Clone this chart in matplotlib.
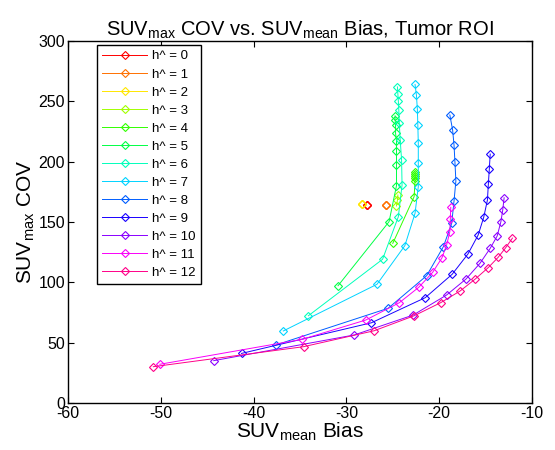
import matplotlib
matplotlib.use("Agg")
import matplotlib.pyplot as plt
import numpy as np

plt.rcParams['font.family'] = ['Liberation Sans', 'DejaVu Sans']
plt.rcParams['mathtext.default'] = 'regular'
plt.rcParams['axes.unicode_minus'] = False

# SUVmean bias (x) and SUVmax COV (y) for each h^ value
h_values = list(range(13))

bias_0 = [-27.8, -27.8, -27.8]
cov_0 = [164.5, 164.5, 164.5]
bias_1 = [-25.7, -25.7, -25.7]
cov_1 = [164.5, 164.5, 164.5]
bias_2 = [-28.35, -28.35, -28.35]
cov_2 = [164.7, 164.7, 164.7]
bias_3 = [-24.6, -24.5, -24.45]
cov_3 = [163.3, 168.0, 172.4]
bias_4 = [-25.0, -22.7, -22.6, -22.6, -22.58, -22.58, -22.6]
cov_4 = [132.3, 171.0, 184.0, 186.5, 188.5, 190.0, 191.5]
bias_5 = [-30.9, -25.4, -24.6, -24.6, -24.6, -24.6, -24.7, -24.7, -24.75, -24.75]
cov_5 = [97.2, 150.3, 180.1, 197.2, 209.1, 217.4, 223.5, 230.4, 234.5, 238.0]
bias_6 = [-34.1, -26.1, -24.4, -24.0, -24.05, -24.2, -24.3, -24.35, -24.4, -24.45, -24.5]
cov_6 = [72.3, 119.1, 154.4, 180.7, 201.4, 218.0, 232.0, 243.0, 250.0, 256.0, 262.0]
bias_7 = [-36.8, -26.7, -23.7, -22.6, -22.25, -22.25, -22.25, -22.3, -22.35, -22.45, -22.6]
cov_7 = [59.7, 98.4, 130.4, 157.2, 179.3, 199.1, 215.2, 230.4, 243.4, 255.0, 264.0]
bias_8 = [-37.6, -25.5, -21.35, -19.55, -18.65, -18.4, -18.2, -18.3, -18.4, -18.55, -18.85]
cov_8 = [48.1, 78.5, 105.5, 129.5, 148.9, 167.4, 184.0, 199.5, 213.8, 226.2, 238.7]
bias_9 = [-41.3, -27.3, -21.5, -18.6, -16.9, -15.8, -15.2, -14.8, -14.7, -14.6, -14.5]
cov_9 = [41.1, 66.5, 87.3, 106.7, 123.5, 139.2, 153.9, 168.2, 181.5, 193.6, 206.3]
bias_10 = [-44.3, -29.15, -22.8, -19.2, -17.1, -15.6, -14.5, -13.75, -13.35, -13.15, -13.0]
cov_10 = [35.1, 56.4, 72.9, 89.5, 102.8, 115.8, 128.2, 138.4, 150.2, 160.0, 170.1]
bias_11 = [-50.1, -34.75, -27.9, -24.3, -22.2, -20.7, -19.7, -19.2, -18.85, -18.8, -18.75]
cov_11 = [32.1, 52.8, 68.8, 83.1, 95.9, 108.3, 120.3, 130.9, 142.0, 152.2, 162.2]
bias_12 = [-50.8, -34.6, -27.0, -22.7, -19.85, -17.75, -16.15, -14.7, -13.65, -12.85, -12.1]
cov_12 = [30.1, 46.7, 59.9, 72.3, 83.1, 92.8, 102.5, 112.3, 120.7, 128.5, 136.7]

all_bias = [bias_0, bias_1, bias_2, bias_3, bias_4, bias_5, bias_6,
            bias_7, bias_8, bias_9, bias_10, bias_11, bias_12]
all_cov = [cov_0, cov_1, cov_2, cov_3, cov_4, cov_5, cov_6,
           cov_7, cov_8, cov_9, cov_10, cov_11, cov_12]

colors = plt.cm.hsv(np.linspace(0, 12 / 13, 13))

fig = plt.figure(figsize=(5.55, 4.5), dpi=100)
ax = fig.add_axes([0.1225, 0.1044, 0.836, 0.8045])

for h, x, y, c in zip(h_values, all_bias, all_cov, colors):
    ax.plot(x, y, '-', marker='D', color=c, mfc='none', mec=c,
            markersize=4.3, lw=0.7, mew=0.8, label=f"h^ = {h}")

ax.set_xlim(-60, -10)
ax.set_ylim(0, 300)
ax.set_xticks(np.arange(-60, -9, 10))
ax.set_yticks(np.arange(0, 301, 50))
ax.tick_params(direction='in', top=True, right=True, labelsize=11.5, length=4, pad=2)
for s in ax.spines.values():
    s.set_linewidth(1.0)

ax.set_title("SUV$_{max}$ COV vs. SUV$_{mean}$ Bias, Tumor ROI", fontsize=14.5, pad=4)
ax.set_xlabel("SUV$_{mean}$ Bias", fontsize=15, labelpad=0)
ax.set_ylabel("SUV$_{max}$ COV", fontsize=15, labelpad=1)

leg = ax.legend(loc='upper left', bbox_to_anchor=(0.0625, 0.989), fontsize=9.5,
                handlelength=3.4, labelspacing=0.44, borderaxespad=0,
                fancybox=False, framealpha=1, borderpad=0.4, handletextpad=0.4)
leg.get_frame().set_edgecolor('black')
leg.get_frame().set_linewidth(1.0)

fig.savefig("out.png", dpi=100)
